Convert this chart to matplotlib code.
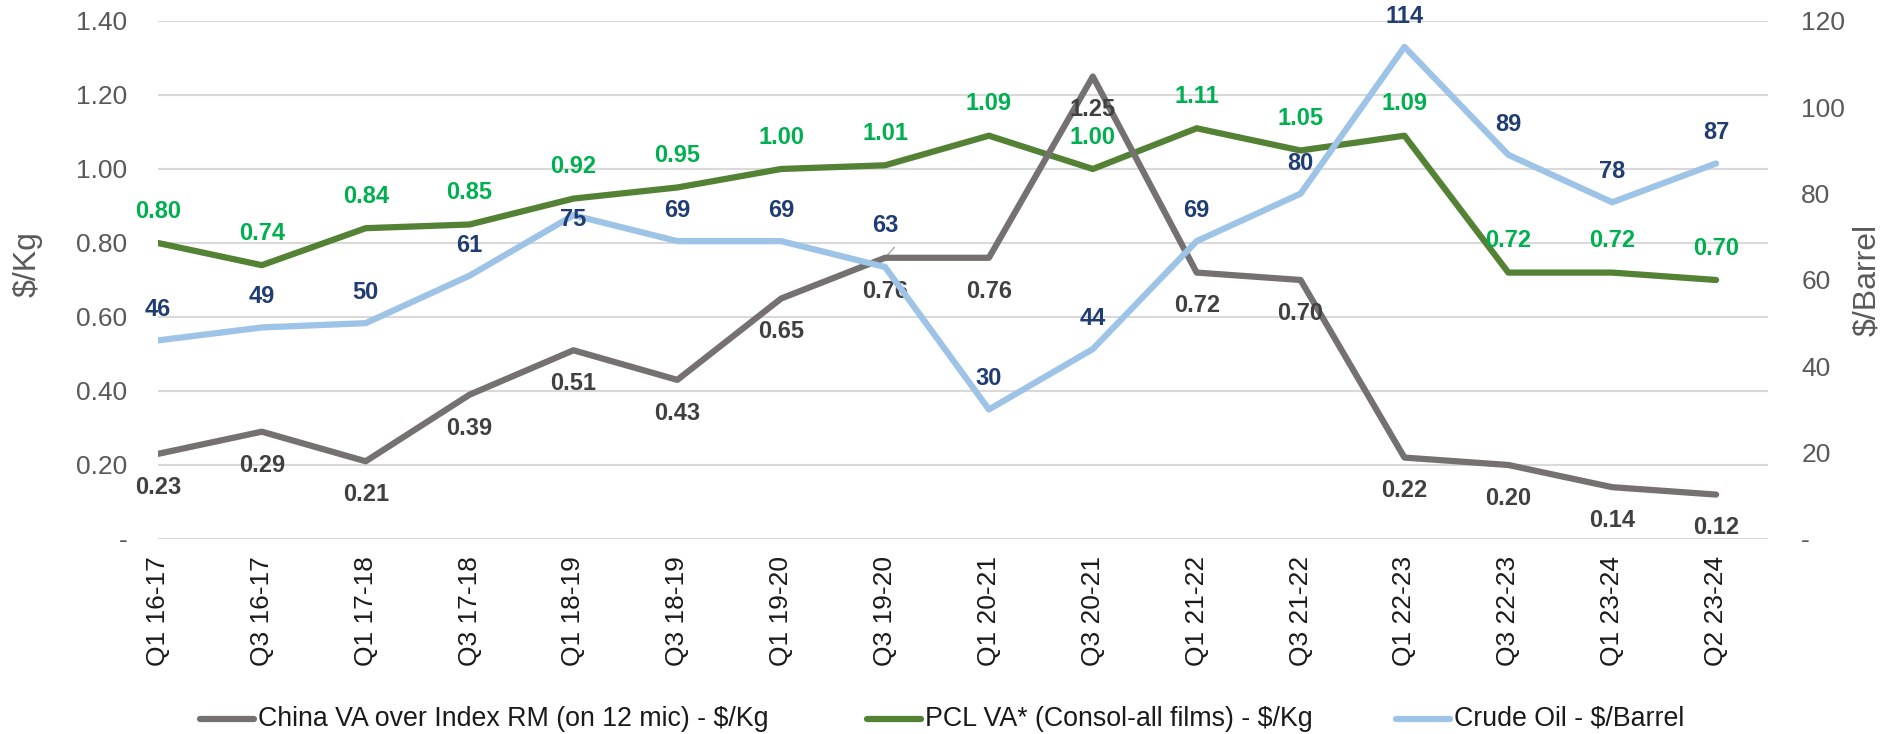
import matplotlib
matplotlib.use("Agg")
import matplotlib.pyplot as plt
from matplotlib.lines import Line2D

plt.rcParams['font.family'] = ['Liberation Sans', 'DejaVu Sans']

quarters = ['Q1 16-17', 'Q3 16-17', 'Q1 17-18', 'Q3 17-18', 'Q1 18-19', 'Q3 18-19',
            'Q1 19-20', 'Q3 19-20', 'Q1 20-21', 'Q3 20-21', 'Q1 21-22', 'Q3 21-22',
            'Q1 22-23', 'Q3 22-23', 'Q1 23-24', 'Q2 23-24']
china_va = [0.23, 0.29, 0.21, 0.39, 0.51, 0.43, 0.65, 0.76, 0.76, 1.25, 0.72, 0.70,
            0.22, 0.20, 0.14, 0.12]
pcl_va = [0.80, 0.74, 0.84, 0.85, 0.92, 0.95, 1.00, 1.01, 1.09, 1.00, 1.11, 1.05,
          1.09, 0.72, 0.72, 0.70]
crude = [46, 49, 50, 61, 75, 69, 69, 63, 30, 44, 69, 80, 114, 89, 78, 87]
series_names = ['China VA over Index RM (on 12 mic) - $/Kg',
                'PCL VA* (Consol-all films) - $/Kg',
                'Crude Oil - $/Barrel']

gray, green, blue = '#767171', '#548235', '#9DC3E6'
gray_lbl, green_lbl, blue_lbl = '#404040', '#00B050', '#1F3D73'
tick_col = '#595959'

fig = plt.figure(figsize=(18.96, 7.34), dpi=100)
ax = fig.add_axes([0.0833, 0.2657, 0.8492, 0.7057])
ax2 = ax.twinx()

x = list(range(len(quarters)))
lw = 4.5
ax.plot(x, pcl_va, color=green, lw=lw, solid_capstyle='round', zorder=3)
ax.plot(x, china_va, color=gray, lw=lw, solid_capstyle='round', zorder=4)
ax2.plot(x, crude, color=blue, lw=lw, solid_capstyle='round', zorder=3)

ax.set_xlim(0, 15.5)
ax.set_ylim(0, 1.4)
ax2.set_ylim(0, 120)

# gridlines follow the $/Kg axis
ax.set_yticks([i * 0.2 for i in range(8)])
ax.set_yticklabels(['-'] + ['%.2f' % (i * 0.2) for i in range(1, 8)])
ax.grid(axis='y', color='#D9D9D9', lw=1.5)
ax.set_axisbelow(True)
ax2.set_yticks(range(0, 121, 20))
ax2.set_yticklabels(['-'] + [str(v) for v in range(20, 121, 20)])

ax.set_xticks(x)
ax.set_xticklabels(quarters, rotation=90, fontsize=19, color='#1a1a1a')
ax.tick_params(axis='x', length=0, pad=12)
ax.tick_params(axis='y', length=0, labelsize=19, labelcolor=tick_col, pad=22)
ax2.tick_params(axis='y', length=0, labelsize=19, labelcolor=tick_col, pad=24)
for a in (ax, ax2):
    for s in a.spines.values():
        s.set_visible(False)

fig.text(28 / 1896, 1 - 264 / 734, '$/Kg', rotation=90, fontsize=23, color=tick_col,
         ha='center', va='center')
fig.text(1867 / 1896, 1 - 280 / 734, '$/Barrel', rotation=90, fontsize=23, color=tick_col,
         ha='center', va='center')

# data labels
for i, v in enumerate(china_va):
    ax.annotate('%.2f' % v, (i, v), xytext=(0, -24), textcoords='offset points',
                ha='center', va='center', fontsize=17, fontweight='bold', color=gray_lbl,
                zorder=6)
for i, v in enumerate(pcl_va):
    ax.annotate('%.2f' % v, (i, v), xytext=(0, 23), textcoords='offset points',
                ha='center', va='center', fontsize=17, fontweight='bold', color=green_lbl,
                zorder=6)
oil_offsets = {4: -3, 7: 30}
for i, v in enumerate(crude):
    dy = oil_offsets.get(i, 22)
    ax2.annotate(str(v), (i, v), xytext=(0, dy), textcoords='offset points',
                 ha='center', va='center', fontsize=17, fontweight='bold', color=blue_lbl,
                 zorder=6)
# leader line for the Q3 19-20 oil label
ax.annotate('', xy=(7, china_va[7]), xytext=(8, 9), textcoords='offset points',
            arrowprops=dict(arrowstyle='-', color='#a6a6a6', lw=1))

# legend row, drawn by hand so each entry sits where Excel put it
leg_y = 1 - 719 / 734
for x0, col, name in zip([200, 867, 1396], [gray, green, blue], series_names):
    fig.add_artist(Line2D([x0 / 1896, (x0 + 54) / 1896], [leg_y, leg_y], color=col,
                          lw=lw, solid_capstyle='round'))
    fig.text((x0 + 58) / 1896, leg_y, name, fontsize=19.3, color='#1a1a1a',
             ha='left', va='center')

fig.savefig('out.png', dpi=100)
